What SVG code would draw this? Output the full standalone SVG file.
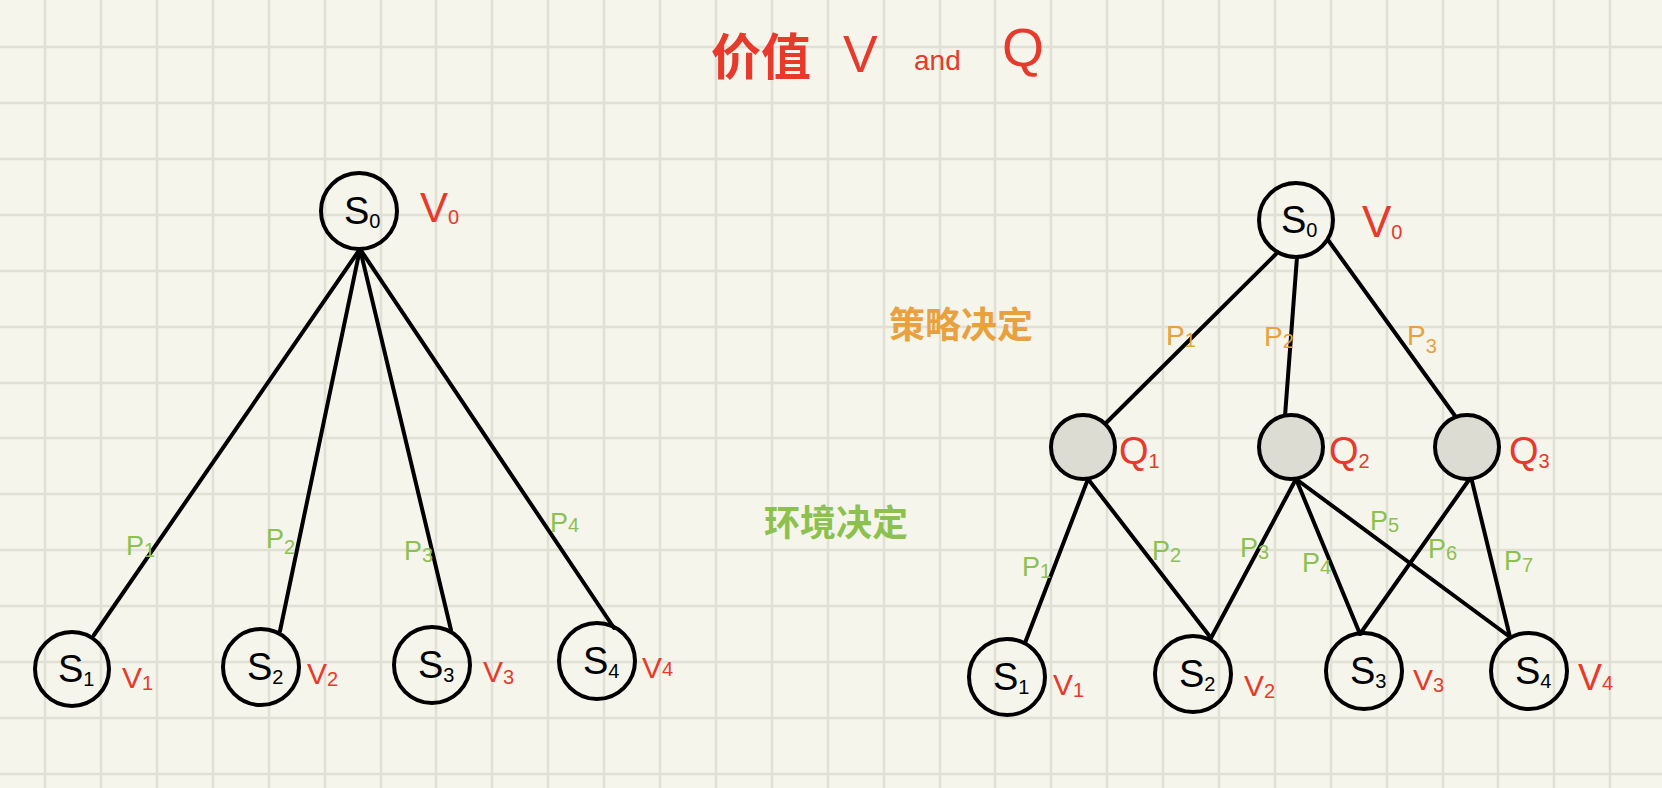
<svg xmlns="http://www.w3.org/2000/svg" width="1662" height="788" viewBox="0 0 1662 788">
<style>
.grid{stroke:#e0e0d5;stroke-width:2.5;fill:none}
.edge{stroke:#000;stroke-width:4;stroke-linecap:round;fill:none}
.st{fill:none;stroke:#000;stroke-width:4}
.q{fill:#dcdcd2;stroke:#000;stroke-width:4}
.lbl{font-family:"Liberation Sans",sans-serif;font-size:38px;fill:#000}
.sub{font-size:20px}
.red{font-family:"Liberation Sans",sans-serif;fill:#e63a2c;font-size:34px}
.grn{font-family:"Liberation Sans",sans-serif;fill:#8cc14f;font-size:27px}
.org{font-family:"Liberation Sans",sans-serif;fill:#e8a13e;font-size:28px}
.cjk{font-family:"Liberation Sans","Noto Sans CJK SC",sans-serif;font-weight:bold}
</style>
<rect width="1662" height="788" fill="#f5f5eb"/>
<path class="grid" d="M45 0V788M101 0V788M157 0V788M213 0V788M269 0V788M325 0V788M381 0V788M436 0V788M492 0V788M548 0V788M604 0V788M660 0V788M716 0V788M772 0V788M828 0V788M884 0V788M940 0V788M995 0V788M1051 0V788M1107 0V788M1163 0V788M1219 0V788M1275 0V788M1331 0V788M1387 0V788M1443 0V788M1498 0V788M1554 0V788M1610 0V788M0 47H1662M0 103H1662M0 159H1662M0 215H1662M0 271H1662M0 327H1662M0 383H1662M0 438H1662M0 494H1662M0 550H1662M0 606H1662M0 662H1662M0 718H1662M0 774H1662"/>

<g id="title">
<text class="red cjk" x="711" y="75" style="font-size:50px">价值</text>
<text class="red" x="843" y="72" style="font-size:52px">V</text>
<text class="red" x="914" y="70" style="font-size:28px">and</text>
<text class="red" x="1002" y="66" style="font-size:54px">Q</text>
</g>

<g id="connectors">
<line class="edge" x1="360" y1="249" x2="94" y2="635"/>
<line class="edge" x1="360" y1="249" x2="280" y2="631"/>
<line class="edge" x1="360" y1="249" x2="451" y2="630"/>
<line class="edge" x1="360" y1="249" x2="614" y2="628"/>
<line class="edge" x1="1277" y1="253" x2="1104" y2="425"/>
<line class="edge" x1="1297" y1="257" x2="1285" y2="416"/>
<line class="edge" x1="1328" y1="240" x2="1458" y2="420"/>
<line class="edge" x1="1088" y1="479" x2="1025" y2="643"/>
<line class="edge" x1="1088" y1="479" x2="1211" y2="638"/>
<line class="edge" x1="1296" y1="479" x2="1211" y2="638"/>
<line class="edge" x1="1296" y1="479" x2="1360" y2="634"/>
<line class="edge" x1="1296" y1="479" x2="1510" y2="637"/>
<line class="edge" x1="1471" y1="477" x2="1360" y2="634"/>
<line class="edge" x1="1471" y1="477" x2="1510" y2="637"/>
</g>

<g id="edge-labels">
<text class="grn" x="126" y="555">P<tspan class="sub" dy="2">1</tspan></text>
<text class="grn" x="266" y="548">P<tspan class="sub" dy="6">2</tspan></text>
<text class="grn" x="404" y="560">P<tspan class="sub" dy="2">3</tspan></text>
<text class="grn" x="550" y="532">P<tspan class="sub" dy="0">4</tspan></text>
<text class="org" x="1166" y="345">P<tspan class="sub" dy="2">1</tspan></text>
<text class="org" x="1264" y="346">P<tspan class="sub" dy="2">2</tspan></text>
<text class="org" x="1407" y="345">P<tspan class="sub" dy="8">3</tspan></text>
<text class="grn" x="1022" y="576">P<tspan class="sub" dy="2">1</tspan></text>
<text class="grn" x="1152" y="560">P<tspan class="sub" dy="2">2</tspan></text>
<text class="grn" x="1240" y="557">P<tspan class="sub" dy="2">3</tspan></text>
<text class="grn" x="1302" y="572">P<tspan class="sub" dy="2">4</tspan></text>
<text class="grn" x="1370" y="530">P<tspan class="sub" dy="2">5</tspan></text>
<text class="grn" x="1428" y="558">P<tspan class="sub" dy="2">6</tspan></text>
<text class="grn" x="1504" y="570">P<tspan class="sub" dy="2">7</tspan></text>
</g>

<g id="notes">
<text class="org cjk" x="889" y="338" style="font-size:36px">策略决定</text>
<text class="grn cjk" x="764" y="536" style="font-size:36px">环境决定</text>
</g>

<g id="L-S0"><circle class="st" cx="359" cy="211" r="38"/><text class="lbl" x="344" y="224">S<tspan class="sub" dy="4">0</tspan></text><text class="red" x="420" y="222" style="font-size:42px">V<tspan class="sub" dy="2">0</tspan></text></g>
<g id="L-S1"><circle class="st" cx="72" cy="669" r="37"/><text class="lbl" x="58" y="682">S<tspan class="sub" dy="4">1</tspan></text><text class="red" x="122" y="688" style="font-size:30px">V<tspan class="sub" dy="2">1</tspan></text></g>
<g id="L-S2"><circle class="st" cx="261" cy="667" r="38"/><text class="lbl" x="247" y="680">S<tspan class="sub" dy="4">2</tspan></text><text class="red" x="307" y="684" style="font-size:30px">V<tspan class="sub" dy="2">2</tspan></text></g>
<g id="L-S3"><circle class="st" cx="432" cy="665" r="38"/><text class="lbl" x="418" y="678">S<tspan class="sub" dy="4">3</tspan></text><text class="red" x="483" y="682" style="font-size:30px">V<tspan class="sub" dy="2">3</tspan></text></g>
<g id="L-S4"><circle class="st" cx="597" cy="661" r="38"/><text class="lbl" x="583" y="674">S<tspan class="sub" dy="4">4</tspan></text><text class="red" x="642" y="678" style="font-size:30px">V<tspan class="sub" dy="-2">4</tspan></text></g>

<g id="R-S0"><circle class="st" cx="1296" cy="220" r="37"/><text class="lbl" x="1281" y="233">S<tspan class="sub" dy="4">0</tspan></text><text class="red" x="1362" y="237" style="font-size:44px">V<tspan class="sub" dy="2">0</tspan></text></g>
<g id="R-Q1"><circle class="q" cx="1083" cy="447" r="32"/><text class="red" x="1119" y="464" style="font-size:38px">Q<tspan class="sub" dy="4">1</tspan></text></g>
<g id="R-Q2"><circle class="q" cx="1291" cy="447" r="32"/><text class="red" x="1329" y="464" style="font-size:38px">Q<tspan class="sub" dy="4">2</tspan></text></g>
<g id="R-Q3"><circle class="q" cx="1467" cy="447" r="32"/><text class="red" x="1509" y="464" style="font-size:38px">Q<tspan class="sub" dy="4">3</tspan></text></g>
<g id="R-S1"><circle class="st" cx="1007" cy="677" r="38"/><text class="lbl" x="993" y="690">S<tspan class="sub" dy="4">1</tspan></text><text class="red" x="1053" y="695" style="font-size:30px">V<tspan class="sub" dy="2">1</tspan></text></g>
<g id="R-S2"><circle class="st" cx="1193" cy="674" r="38"/><text class="lbl" x="1179" y="687">S<tspan class="sub" dy="4">2</tspan></text><text class="red" x="1244" y="696" style="font-size:30px">V<tspan class="sub" dy="2">2</tspan></text></g>
<g id="R-S3"><circle class="st" cx="1364" cy="671" r="38"/><text class="lbl" x="1350" y="684">S<tspan class="sub" dy="4">3</tspan></text><text class="red" x="1413" y="690" style="font-size:30px">V<tspan class="sub" dy="2">3</tspan></text></g>
<g id="R-S4"><circle class="st" cx="1529" cy="671" r="38"/><text class="lbl" x="1515" y="684">S<tspan class="sub" dy="4">4</tspan></text><text class="red" x="1578" y="690" style="font-size:36px">V<tspan class="sub" dy="0">4</tspan></text></g>
</svg>
